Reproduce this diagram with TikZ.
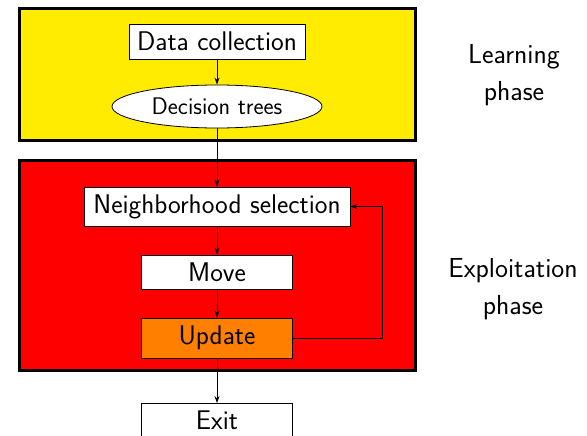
\documentclass[tikz,border=0pt]{standalone}
\usepackage{fontspec}
\setsansfont{Latin Modern Sans}
\usetikzlibrary{shapes.geometric,arrows.meta}
\definecolor{phaseyellow}{RGB}{255,236,0}
\definecolor{phasered}{RGB}{255,0,0}
\definecolor{updorange}{RGB}{255,128,0}
\begin{document}
\begin{tikzpicture}[x=1pt,y=-1pt,
  phasebox/.style={draw=black,line width=3pt},
  stepbox/.style={draw=black,line width=0.8pt,fill=white,inner sep=0pt,font=\sffamily\fontsize{27}{30}\selectfont},
  link/.style={line width=0.8pt,-{Stealth[length=7pt,width=5pt]}},
  label/.style={align=center,font=\sffamily\fontsize{27.5}{37}\selectfont}]
\useasboundingbox (0,0) rectangle (587,436);
\path[phasebox,fill=phaseyellow] (19,8.2) rectangle (415,140);
\path[phasebox,fill=phasered] (19,160) rectangle (415,370.7);
\node[stepbox,minimum width=176pt,minimum height=35pt] (dc) at (217,41.5) {Data collection};
\node[stepbox,ellipse,minimum width=210pt,minimum height=43pt,font=\sffamily\fontsize{24}{28}\selectfont] (dt) at (217,106.5) {Decision trees};
\node[stepbox,minimum width=266pt,minimum height=39pt] (ns) at (217,206.5) {Neighborhood selection};
\node[stepbox,minimum width=151pt,minimum height=34pt] (mv) at (217,272) {Move};
\node[stepbox,fill=updorange,minimum width=151pt,minimum height=40pt] (up) at (217,338) {Update};
\node[stepbox,minimum width=151pt,minimum height=34pt,anchor=north] (ex) at (217,403) {Exit};
\coordinate (fb) at (382,338);
\draw[link] (dc) -- (dt);
\draw[link] (dt) -- (ns);
\draw[link] (ns) -- (mv);
\draw[link] (mv) -- (up);
\draw[link] (up) -- (ex);
\draw[link] (up.east) -- (fb) |- (ns.east);
\node[label] (lp) at (514,75) {Learning\\phase};
\node[label] (ep) at (513,289.5) {Exploitation\\phase};
\end{tikzpicture}
\end{document}
